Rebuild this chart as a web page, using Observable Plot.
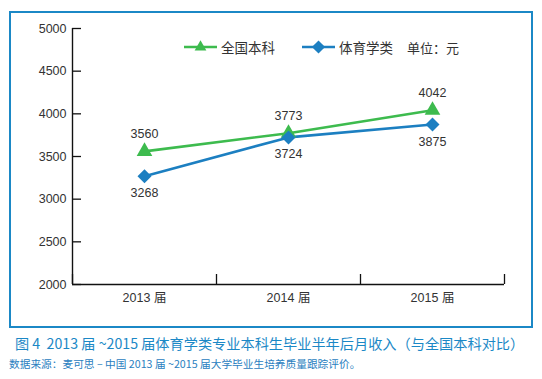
<!DOCTYPE html>
<html>
<head>
<meta charset="utf-8">
<script src="https://cdn.jsdelivr.net/npm/d3@7"></script>
<script src="https://cdn.jsdelivr.net/npm/@observablehq/plot@0.6"></script>
<style>
  html, body { margin: 0; padding: 0; background: #fff; }
  body { width: 542px; height: 379px; position: relative; overflow: hidden;
         font-family: "Liberation Sans", "Noto Sans CJK SC", sans-serif; }
  #frame { position: absolute; left: 9px; top: 11px; width: 520px; height: 313px;
           border: 2px solid #1b88c6; box-sizing: content-box; }
  #chart { position: absolute; left: 0; top: 0; }
  #legend { position: absolute; left: 184px; top: 37px; display: flex; align-items: center;
            font-size: 13.5px; color: #333; font-family: "Noto Sans CJK SC", sans-serif; white-space: nowrap; }
  #legend .item { display: flex; align-items: center; }
  #legend svg { display: block; }
  #caption { position: absolute; left: 15px; top: 333px; font-size: 14.2px; color: #1b88c6;
             white-space: nowrap; font-family: "Noto Sans CJK SC", sans-serif; }
  #source { position: absolute; left: 9px; top: 356px; font-size: 10.7px; color: #2a80c0;
            white-space: nowrap; font-family: "Noto Sans CJK SC", sans-serif; }
</style>
</head>
<body>
<div id="frame"></div>
<div id="chart"></div>
<div id="legend"></div>
<div id="caption">图 4&nbsp; 2013 届 ~2015 届体育学类专业本科生毕业半年后月收入（与全国本科对比）</div>
<div id="source">数据来源：麦可思 – 中国 2013 届 ~2015 届大学毕业生培养质量跟踪评价。</div>
<script>
// ---- data ----
const years = [2013, 2014, 2015];
const yearLabels = ["2013 届", "2014 届", "2015 届"];
const nationalValues = [3560, 3773, 4042];   // 全国本科
const sportsValues = [3268, 3724, 3875];     // 体育学类
const seriesNames = ["全国本科", "体育学类"];
const yTicks = [2000, 2500, 3000, 3500, 4000, 4500, 5000];
const unitLabel = "单位：元";

const green = "#3dbb4e";
const blue = "#1c7fc1";

const national = years.map((y, i) => ({year: y, value: nationalValues[i]}));
const sports = years.map((y, i) => ({year: y, value: sportsValues[i]}));
const boundaries = [years[0] - 0.5, ...years.map(y => y + 0.5)];
const labelOf = d => yearLabels[years.indexOf(d)];

const font = "\"Liberation Sans\", \"Noto Sans CJK SC\", sans-serif";

const chart = Plot.plot({
  width: 542,
  height: 320,
  marginLeft: 72,
  marginRight: 38,
  marginTop: 28,
  marginBottom: 36,
  style: {fontFamily: font, fontSize: "12.5px", color: "#333", background: "transparent"},
  x: {type: "linear", domain: [boundaries[0], boundaries[boundaries.length - 1]]},
  y: {domain: [2000, 5000]},
  marks: [
    // axis lines
    Plot.ruleX([boundaries[0]], {stroke: "#111", strokeWidth: 1.4}),
    Plot.ruleY([2000], {stroke: "#111", strokeWidth: 1.4}),
    // inward tick marks
    Plot.axisY({ticks: yTicks, tickSize: -9, text: null, stroke: "#111", strokeWidth: 1.3, label: null}),
    Plot.axisY({ticks: yTicks, tickSize: 0, tickPadding: 6, tickFormat: d => String(d), fill: "#333", label: null}),
    Plot.axisX({ticks: boundaries, tickSize: -10, text: null, stroke: "#111", strokeWidth: 1.3, label: null}),
    Plot.axisX({ticks: years, tickSize: 0, tickPadding: 9, tickFormat: labelOf, fill: "#333", label: null}),
    // series
    Plot.line(national, {x: "year", y: "value", stroke: green, strokeWidth: 2.6}),
    Plot.line(sports, {x: "year", y: "value", stroke: blue, strokeWidth: 2.6}),
    Plot.dot(national, {x: "year", y: "value", symbol: "triangle", r: 5.8, fill: green, stroke: null}),
    Plot.dot(sports, {x: "year", y: "value", symbol: "diamond2", r: 6.3, fill: blue, stroke: null}),
    Plot.text(national, {x: "year", y: "value", text: d => String(d.value), dy: -17, fill: "#333", fontSize: 12.5}),
    Plot.text(sports, {x: "year", y: "value", text: d => String(d.value), dy: 17, fill: "#333", fontSize: 12.5})
  ]
});
document.getElementById("chart").appendChild(chart);

// legend
const legend = document.getElementById("legend");
function swatch(color, shape) {
  const svg = d3.create("svg").attr("width", 33).attr("height", 16);
  svg.append("line").attr("x1", 0).attr("x2", 33).attr("y1", 8).attr("y2", 8)
     .attr("stroke", color).attr("stroke-width", 2.6);
  const sym = shape === "triangle" ? d3.symbolTriangle : d3.symbolDiamond2;
  svg.append("path").attr("d", d3.symbol(sym, shape === "triangle" ? 60 : 110)())
     .attr("transform", "translate(16.5,8)").attr("fill", color);
  return svg.node();
}
const items = [[seriesNames[0], green, "triangle"], [seriesNames[1], blue, "diamond"]];
items.forEach(([name, color, shape], i) => {
  const it = document.createElement("div");
  it.className = "item";
  it.style.marginRight = i === 0 ? "27px" : "14px";
  it.appendChild(swatch(color, shape));
  const t = document.createElement("span");
  t.textContent = name;
  t.style.marginLeft = "4px";
  it.appendChild(t);
  legend.appendChild(it);
});
const unit = document.createElement("span");
unit.textContent = unitLabel;
unit.style.fontSize = "13px";
legend.appendChild(unit);
</script>
</body>
</html>
